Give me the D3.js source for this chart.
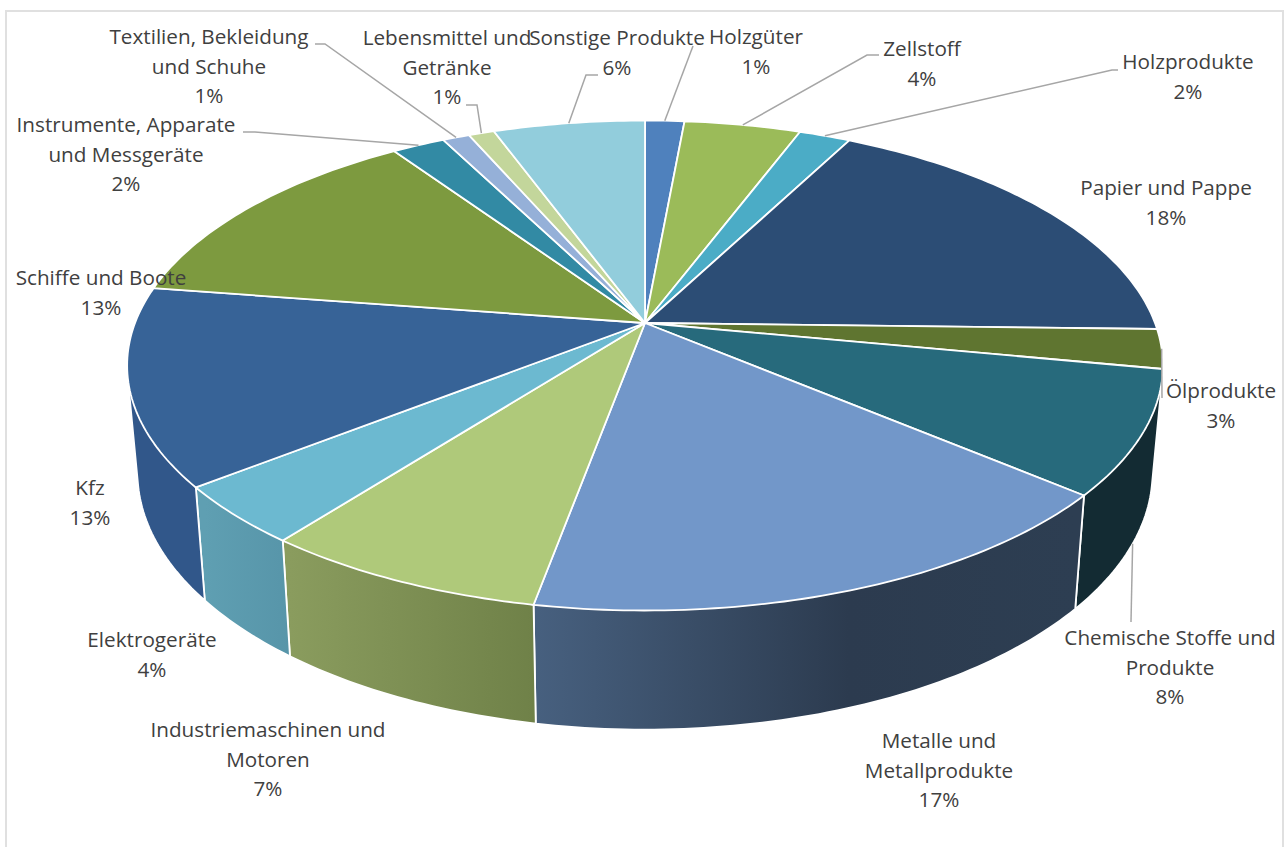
<!DOCTYPE html>
<html lang="de">
<head>
<meta charset="utf-8">
<title>Warenstruktur</title>
<script src="https://cdn.jsdelivr.net/npm/d3@7"></script>
<style>
html,body{margin:0;padding:0;background:#fff;overflow:hidden}
svg{display:block}
text{font-family:"Open Sans",sans-serif;font-size:20.7px;fill:#404040;text-anchor:middle}
</style>
</head>
<body>
<svg id="chart" width="1284" height="847"></svg>
<script>
// ---- data ----
const categories = ["Holzgüter","Zellstoff","Holzprodukte","Papier und Pappe","Ölprodukte","Chemische Stoffe und Produkte","Metalle und Metallprodukte","Industriemaschinen und Motoren","Elektrogeräte","Kfz","Schiffe und Boote","Instrumente, Apparate und Messgeräte","Textilien, Bekleidung und Schuhe","Lebensmittel und Getränke","Sonstige Produkte"];
const values = [1.45,4.3,1.9,17.75,2.6,8.15,16.75,7.6,3.9,13.0,13.1,1.95,1.0,0.95,5.6];
const percentLabels = ["1%","4%","2%","18%","3%","8%","17%","7%","4%","13%","13%","2%","1%","1%","6%"];
const topColors = ["#4f81bd","#9bbb59","#4bacc6","#2c4d75","#5f7530","#276a7c","#7297c9","#afc97a","#6cb9d0","#376397","#7d9a3f","#328aa4","#95b0d8","#c3d69b","#92cddc"];
const wallFrom = ["#3b618e","#748c43","#388197","#213a58","#475824","#132b33","#47607f","#8a9c5e","#5f9fb2","#31578a","#5e742f","#25677b","#7086a3","#929f74","#6d9aa5"];
const wallTo   = ["#3b618e","#748c43","#388197","#213a58","#475824","#132b33","#2c3b4f","#6f8148","#5795a9","#31578a","#5e742f","#25677b","#7086a3","#929f74","#6d9aa5"];

// ---- label layout (same order as categories) ----
const labelLines = [["Holzgüter"],["Zellstoff"],["Holzprodukte"],["Papier und Pappe"],["Ölprodukte"],["Chemische Stoffe und","Produkte"],["Metalle und","Metallprodukte"],["Industriemaschinen und","Motoren"],["Elektrogeräte"],["Kfz"],["Schiffe und Boote"],["Instrumente, Apparate","und Messgeräte"],["Textilien, Bekleidung","und Schuhe"],["Lebensmittel und","Getränke"],["Sonstige Produkte"]];
const labelX = [756,922,1188,1166,1221,1170,939,268,152,90,101,126,209,447,617];
const labelY = [44,56,69,195,398,645,748,737,647,495,285,132,44,45,45];
const lineStep = 29.6;
// leader lines: rim the leader starts from, then its elbow points
const leaderStart = ["top","top","top",null,"top","bottom",null,null,null,null,null,"top","top","top","top"];
const leaderElbows = [[[693,46]],[[867,55],[879,55]],[[1112,70],[1118,70]],[],[[1162,398]],[[1131,622]],[],[],[],[],[],[[255,132],[243,132]],[[325,44],[315,44]],[[477,105],[466,105]],[[586,75],[598,75]]];

// ---- perspective projection of the pie disc ----
const cx = 645, cy = 323, a = 510, b = 237.6, k = -0.1736;
const topPt = t => {
  const u = Math.sin(t), v = -Math.cos(t), w = 1 + k * v;
  return [a * u / w, b * v / w];
};
const project = t => { const p = topPt(t); return [cx + p[0], cy + p[1]]; };
const projectBottom = t => { const p = topPt(t); return [cx + 0.98 * p[0], cy + 105 + 1.049 * p[1]]; };
const samples = (t0, t1) => d3.range(0, 1.0001, 1 / Math.max(2, Math.ceil((t1 - t0) * 60))).map(f => t0 + (t1 - t0) * f);

const arcs = d3.pie().sort(null).value(d => d)(values);
const svg = d3.select("#chart");
const line = d3.line();

// gradients for the side walls
const defs = svg.append("defs");
arcs.forEach((d, i) => {
  const xs = samples(d.startAngle, d.endAngle).map(t => projectBottom(t)[0]);
  const ext = d3.extent(xs);
  const g = defs.append("linearGradient").attr("id", "wall" + i)
    .attr("gradientUnits", "userSpaceOnUse")
    .attr("x1", ext[0]).attr("x2", ext[1]).attr("y1", 0).attr("y2", 0);
  g.append("stop").attr("offset", 0).attr("stop-color", wallFrom[i]);
  g.append("stop").attr("offset", i === 6 ? 0.58 : 1).attr("stop-color", wallTo[i]);
  if (i === 6) g.append("stop").attr("offset", 1).attr("stop-color", "#2d3e52");
});

// chart frame
svg.append("path").attr("d", "M6,847V11H1283V847").attr("fill", "none").attr("stroke", "#e0e0e0").attr("stroke-width", 2);

// side walls: hull of the top and bottom rim arcs of each slice
svg.append("g").selectAll("path").data(arcs).join("path")
  .attr("d", d => {
    const ts = samples(d.startAngle, d.endAngle);
    return line(d3.polygonHull(ts.map(project).concat(ts.map(projectBottom)))) + "Z";
  })
  .attr("fill", (d, i) => `url(#wall${i})`)
  .attr("stroke", "#fff").attr("stroke-width", 1.8).attr("stroke-linejoin", "round");

// top surface
svg.append("g").selectAll("path").data(arcs).join("path")
  .attr("d", d => line([[cx, cy]].concat(samples(d.startAngle, d.endAngle).map(project))) + "Z")
  .attr("fill", (d, i) => topColors[i])
  .attr("stroke", "#fff").attr("stroke-width", 1.8).attr("stroke-linejoin", "round");

// leader lines
svg.append("g").selectAll("path").data(arcs.filter((d, i) => leaderStart[i])).join("path")
  .attr("d", d => {
    const i = d.index, mid = (d.startAngle + d.endAngle) / 2;
    const start = leaderStart[i] === "top" ? project(mid) : projectBottom(mid);
    return line([start].concat(leaderElbows[i]));
  })
  .attr("fill", "none").attr("stroke", "#a6a6a6").attr("stroke-width", 1.5);

// labels
const labels = svg.append("g").selectAll("text").data(categories).join("text")
  .attr("x", (d, i) => labelX[i]).attr("y", (d, i) => labelY[i]);
labels.each(function(d, i) {
  const sel = d3.select(this);
  labelLines[i].concat(percentLabels[i]).forEach((s, j) => {
    sel.append("tspan").attr("x", labelX[i]).attr("y", labelY[i] + j * lineStep).text(s);
  });
});
</script>
</body>
</html>
